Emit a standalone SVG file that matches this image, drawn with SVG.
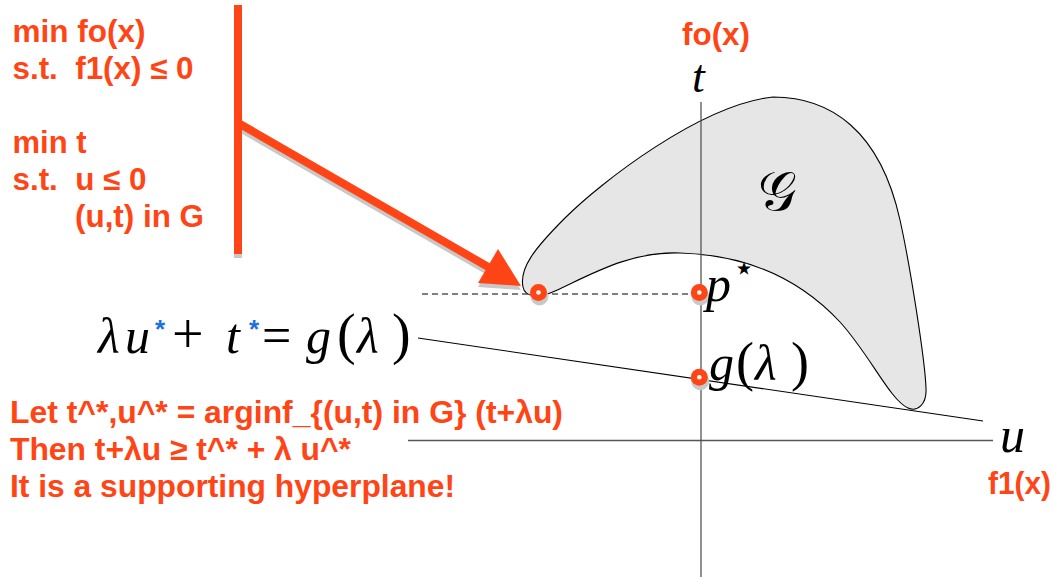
<svg xmlns="http://www.w3.org/2000/svg" width="1053" height="577" viewBox="0 0 1053 577">
<style>
.ot{font-family:"Liberation Sans",Arial,sans-serif;font-weight:bold;font-size:31px;fill:#ff4515;white-space:pre}
.m{font-family:"Liberation Serif","Times New Roman",serif;font-style:italic;fill:#000}
.mu{font-family:"Liberation Serif","Times New Roman",serif;font-style:normal;fill:#000}
.bs{font-family:"Liberation Sans",Arial,sans-serif;font-weight:bold;font-size:26px;fill:#1e6fe0}
.ax{stroke:#555;stroke-width:1.3;fill:none}
.ln{stroke:#000;stroke-width:1.1;fill:none}
.sh{fill:#c8c8c8;stroke:#c8c8c8}
</style>
<rect width="1053" height="577" fill="#fff"/>

<g id="problem-text">
<text class="ot" x="12.5" y="42" textLength="133" lengthAdjust="spacingAndGlyphs">min fo(x)</text>
<text class="ot" x="12.5" y="79" textLength="181" lengthAdjust="spacingAndGlyphs">s.t.  f1(x) ≤ 0</text>
<text class="ot" x="12.5" y="153" textLength="74" lengthAdjust="spacingAndGlyphs">min t</text>
<text class="ot" x="12.5" y="190" textLength="134" lengthAdjust="spacingAndGlyphs">s.t.  u ≤ 0</text>
<text class="ot" x="75" y="227" textLength="129" lengthAdjust="spacingAndGlyphs">(u,t) in G</text>
</g>

<g id="pointer-arrow">
<g transform="translate(0,4)">
<line x1="238" y1="5" x2="238" y2="254" stroke="#c8c8c8" stroke-width="8"/>
<line x1="240" y1="124" x2="490" y2="268" stroke="#c8c8c8" stroke-width="8"/>
<polygon points="521,286 498,249 478,283" fill="#c8c8c8"/>
</g>
<line x1="238" y1="5" x2="238" y2="254" stroke="#ff4515" stroke-width="8"/>
<line x1="240" y1="124" x2="490" y2="268" stroke="#ff4515" stroke-width="8"/>
<polygon points="521,286 498,249 478,283" fill="#ff4515"/>
</g>

<g id="region-G">
<path d="M523,287 C519,268 535,248 565,218 C600,183 700,105 773,97 C830,97 880,130 900,220 C910,265 925,360 926,388 C927,405 917,412 908,408 C890,400 870,355 840,322 C810,290 760,255 680,253 C630,251 590,275 555,291 C540,298 525,298 523,287 Z" fill="#e6e6e6" stroke="#000" stroke-width="1.1"/>
<text x="758" y="210" font-family="DejaVu Serif, 'Liberation Serif', serif" font-size="54">𝒢</text>
</g>

<g id="connectors">
<line class="ax" x1="701" y1="102" x2="701" y2="577"/>
<line class="ax" x1="408" y1="440.5" x2="993" y2="440.5"/>
<line class="ln" x1="418" y1="338" x2="983" y2="421"/>
<line class="ln" x1="422" y1="294" x2="698" y2="294" stroke-dasharray="6,4"/>
</g>

<g id="axis-labels">
<text class="m" x="692" y="92" font-size="46">t</text>
<text class="ot" x="682" y="45" textLength="68" lengthAdjust="spacingAndGlyphs">fo(x)</text>
<text class="m" x="1000" y="452" font-size="50">u</text>
<text class="ot" x="988" y="494" textLength="63" lengthAdjust="spacingAndGlyphs">f1(x)</text>
</g>

<g id="points">
<g transform="translate(1,4)">
<circle cx="538.5" cy="292.5" r="8.5" class="sh"/>
<circle cx="699.3" cy="292.5" r="8.5" class="sh"/>
<circle cx="699.3" cy="377.3" r="8.5" class="sh"/>
</g>
<g fill="#ff4515">
<circle cx="538.5" cy="292.5" r="8.5"/>
<circle cx="699.3" cy="292.5" r="8.5"/>
<circle cx="699.3" cy="377.3" r="8.5"/>
</g>
<g fill="#fff">
<circle cx="538.5" cy="292.5" r="2.3"/>
<circle cx="699.3" cy="292.5" r="2.3"/>
<circle cx="699.3" cy="377.3" r="2.3"/>
</g>
</g>

<g id="point-labels">
<text class="m" x="706" y="301" font-size="50">p</text>
<text x="744" y="280" font-family="DejaVu Sans, sans-serif" font-size="36" text-anchor="middle">⋆</text>
<text font-size="50"><tspan class="m" x="709" y="380">g</tspan><tspan class="mu" x="736" y="380" font-size="54">(</tspan><tspan class="m" x="755" y="380">λ</tspan><tspan class="mu" x="791" y="380" font-size="54">)</tspan></text>
</g>

<g id="hyperplane-label">
<text font-size="50"><tspan class="m" x="98" y="353">λ</tspan><tspan class="m" x="125" y="353">u</tspan><tspan class="mu" x="172" y="353" font-size="56">+</tspan><tspan class="m" x="226" y="353">t</tspan><tspan class="mu" x="262" y="353" font-size="52">=</tspan><tspan class="m" x="306" y="353">g</tspan><tspan class="mu" x="337" y="353" font-size="56">(</tspan><tspan class="m" x="357" y="353">λ</tspan><tspan class="mu" x="392" y="353" font-size="56">)</tspan></text>
<text class="bs" x="155" y="338">*</text>
<text class="bs" x="249" y="338">*</text>
</g>

<g id="explanation-text">
<text class="ot" x="10" y="423" textLength="553" lengthAdjust="spacingAndGlyphs">Let t^*,u^* = arginf_{(u,t) in G} (t+λu)</text>
<text class="ot" x="10" y="460" textLength="341" lengthAdjust="spacingAndGlyphs">Then t+λu ≥ t^* + λ u^*</text>
<text class="ot" x="10" y="497" textLength="445" lengthAdjust="spacingAndGlyphs">It is a supporting hyperplane!</text>
</g>
</svg>
